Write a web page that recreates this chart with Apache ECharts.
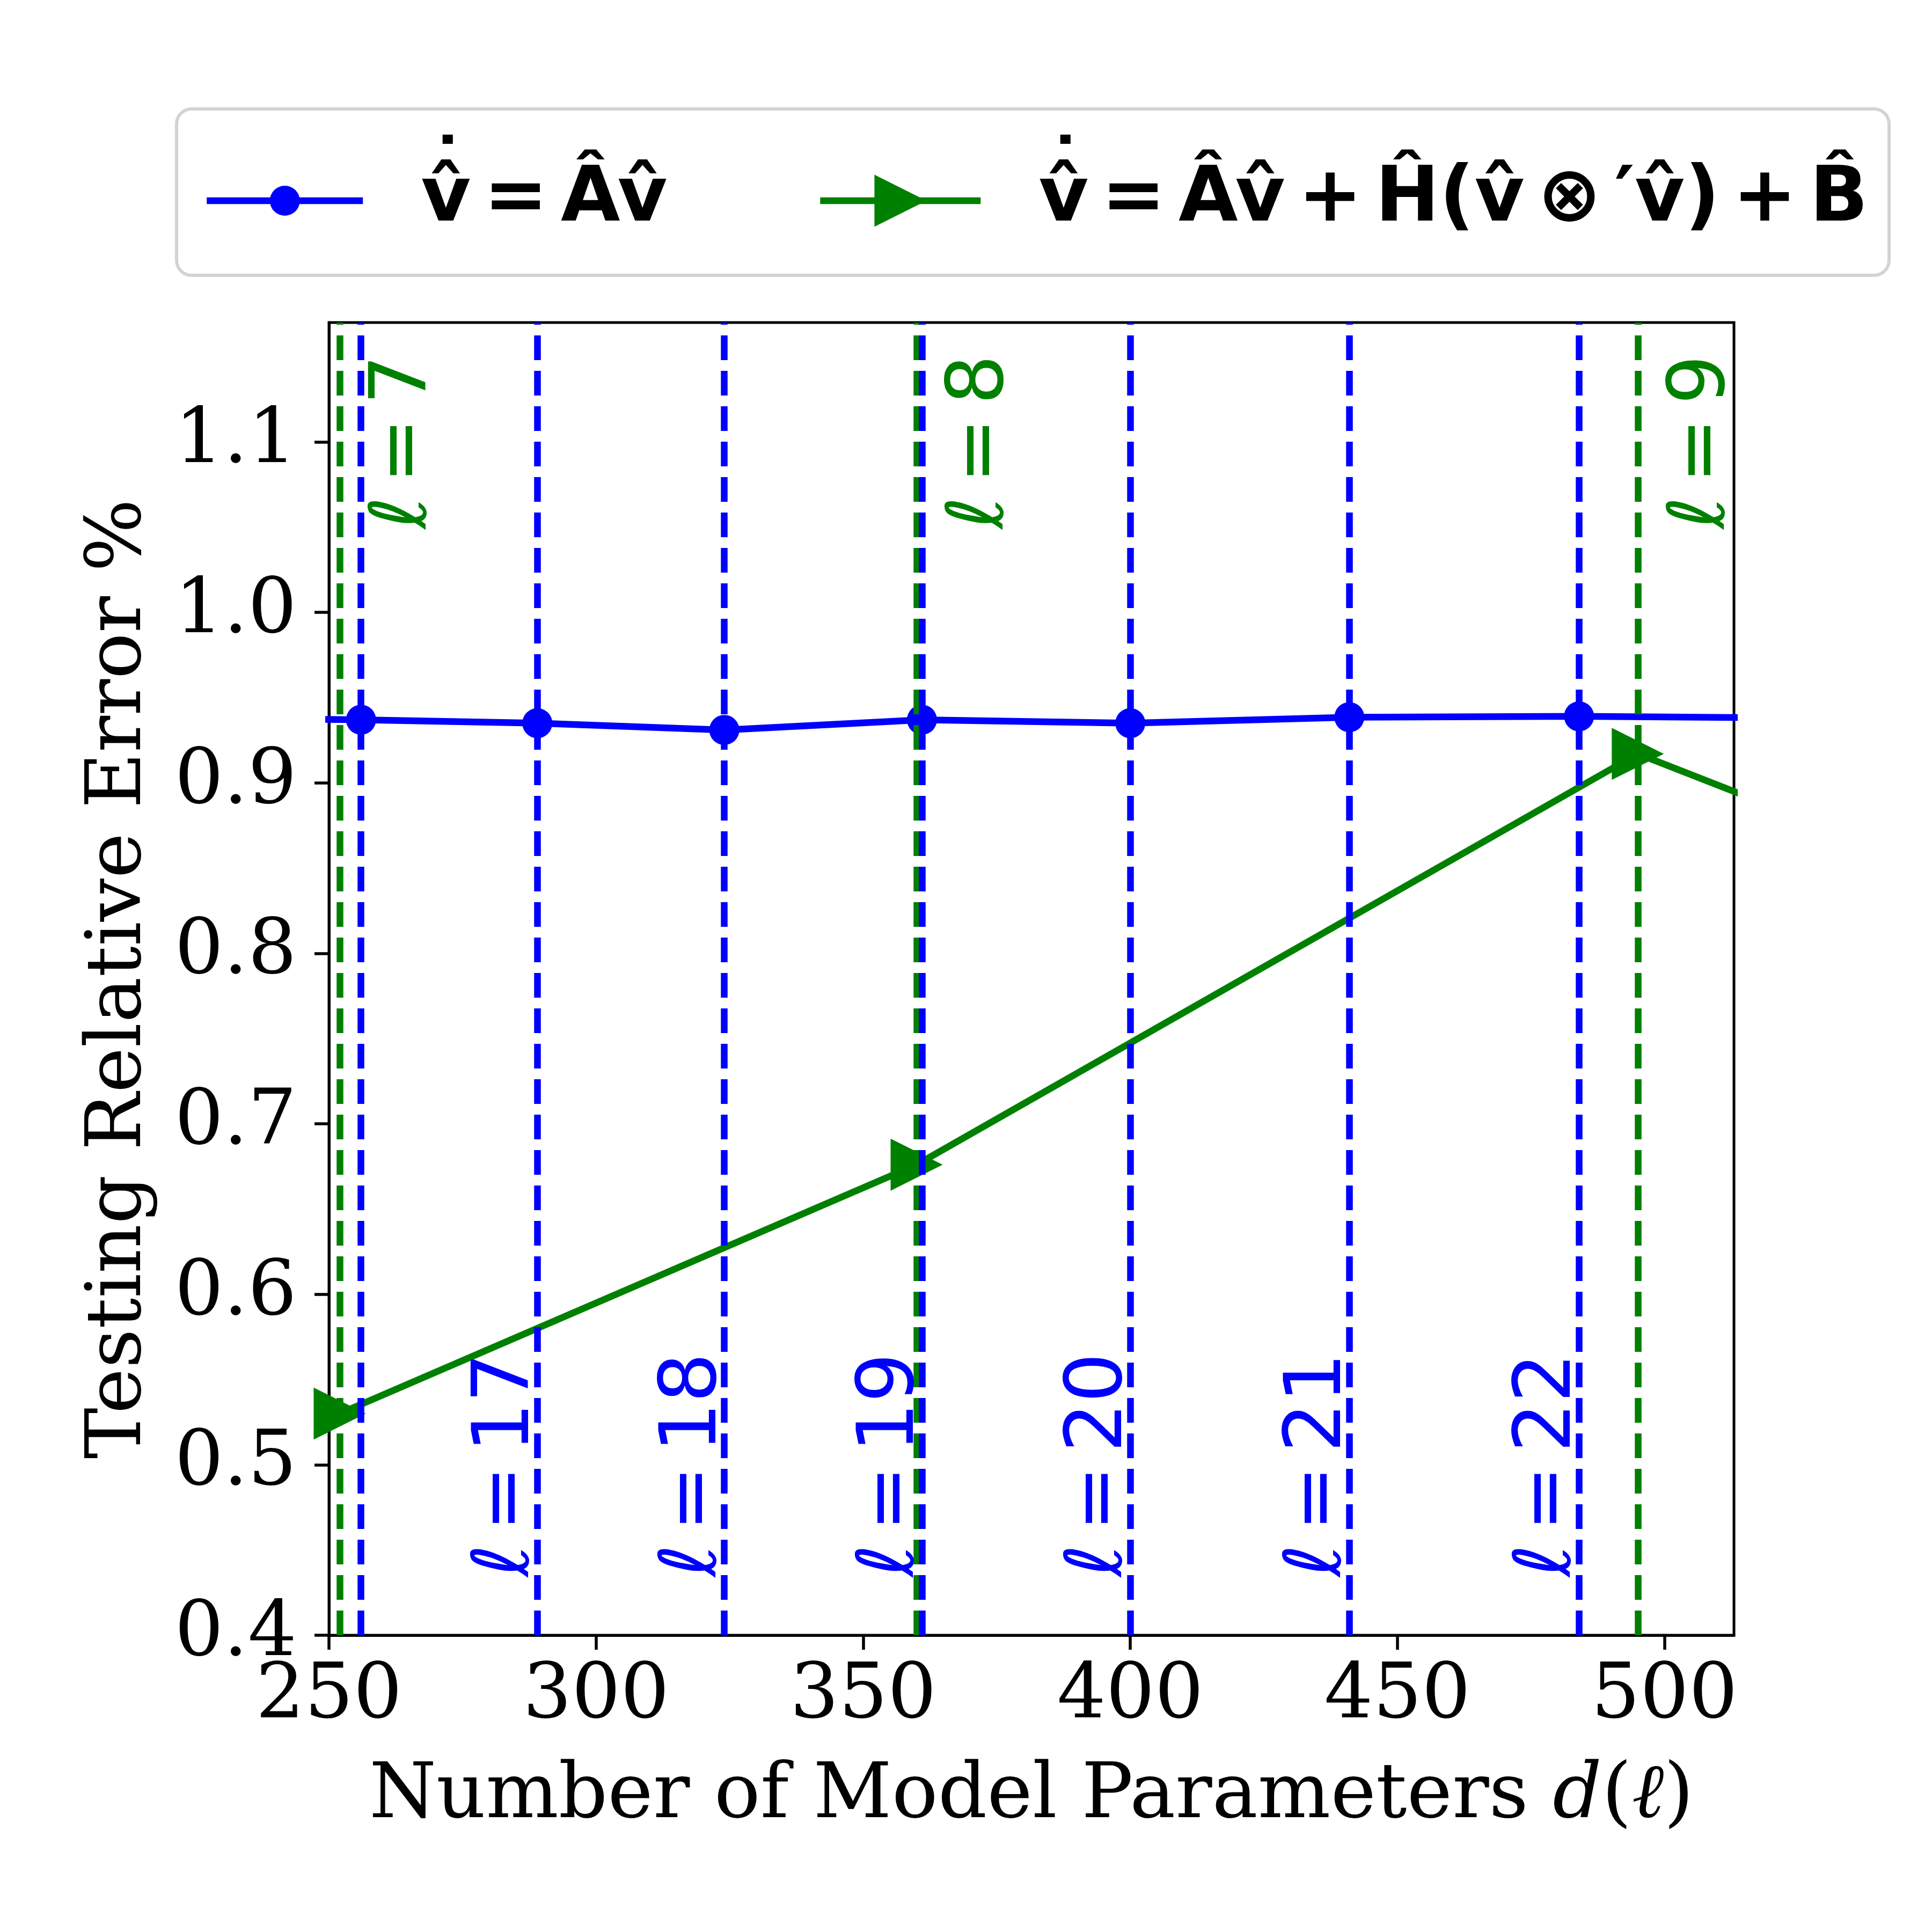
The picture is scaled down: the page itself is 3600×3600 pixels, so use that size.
<!DOCTYPE html>
<html><head><meta charset="utf-8">
<script src="https://cdn.jsdelivr.net/npm/echarts@6/dist/echarts.min.js"></script>
<style>html,body{margin:0;padding:0;background:#fff}#c{width:3600px;height:3600px}</style>
</head><body><div id="c"></div>
<script>
// ---- data ----
const blueD = [225, 256, 289, 324, 361, 400, 441, 484, 529];
const blueErr = [0.938, 0.937, 0.935, 0.931, 0.937, 0.935, 0.9385, 0.939, 0.938];
const greenD = [252, 360, 495, 660];
const greenErr = [0.530, 0.676, 0.917, 0.715];
const blueVLines = [256, 289, 324, 361, 400, 441, 484];
const greenVLines = [252, 360, 495];
const blueLabelD = [289, 324, 361, 400, 441, 484];
const blueLabelL = [17, 18, 19, 20, 21, 22];
const greenLabelD = [252, 360, 495];
const greenLabelL = [7, 8, 9];
const xTicks = [250, 300, 350, 400, 450, 500];
const yTicks = [0.4, 0.5, 0.6, 0.7, 0.8, 0.9, 1.0, 1.1];

const S6 = '\u2006';
const LEG = {
  lin: '{d|\u200A\u02D9}v\u0302' + S6 + '=' + S6 + 'A\u0302v\u0302',
  quad: '{d|\u200A\u02D9}v\u0302' + S6 + '=' + S6 + 'A\u0302v\u0302' + S6 + '+' + S6 + 'H\u0302(v\u0302' + S6 + '\u2297' + S6 + '\u2032v\u0302)' + S6 + '+' + S6 + 'B\u0302'
};

const BLUE = '#0000ff', GREEN = '#008000';
const FS = 143, LFS = 146;
const SERIF = 'DejaVu Serif', SANS = 'DejaVu Sans';

const chart = echarts.init(document.getElementById('c'), null, {renderer: 'canvas'});

function lblFmt(p) { return '{i|\u2113}{n|' + S6 + '=' + S6 + p.value[2] + '}'; }
function lblRich(color) {
  return {
    i: {fontFamily: SANS, fontStyle: 'italic', fontSize: LFS, color: color},
    n: {fontFamily: SANS, fontSize: LFS, color: color}
  };
}
const legRich = {d: {fontFamily: SANS, fontWeight: 'bold', fontSize: FS, color: '#000', lineHeight: 55, verticalAlign: 'top', width: 0}};
function legText(pad) {
  return {fontFamily: SANS, fontWeight: 'bold', fontSize: FS, color: '#000', lineHeight: 244, padding: [0, 0, 0, pad], rich: legRich};
}

const option = {
  animation: false,
  backgroundColor: '#ffffff',
  grid: {left: 613, right: 369, top: 601, bottom: 553, show: true, borderColor: '#000', borderWidth: 5, backgroundColor: 'transparent'},
  graphic: [{
    type: 'rect', left: 326, top: 200, z: 1,
    shape: {width: 3191, height: 310, r: 28},
    style: {fill: 'rgba(255,255,255,0.8)', stroke: '#d3d3d3', lineWidth: 6}
  }],
  legend: [
    {
      data: ['lin'], left: 379, top: 252, padding: 0, selectedMode: false, z: 5,
      itemWidth: 291, itemHeight: 70, lineStyle: {width: 12.5},
      formatter: n => LEG[n], textStyle: legText(103)
    },
    {
      data: ['quad'], left: 1522, top: 252, padding: 0, selectedMode: false, z: 5,
      itemWidth: 299, itemHeight: 121, lineStyle: {width: 12.5},
      formatter: n => LEG[n], textStyle: legText(103)
    }
  ],
  xAxis: {
    type: 'value', min: 250, max: 513, interval: 50,
    axisLine: {show: true, lineStyle: {color: '#000', width: 5}},
    axisTick: {show: true, length: 27, lineStyle: {color: '#000', width: 5.5}, customValues: xTicks},
    axisLabel: {fontFamily: SERIF, fontSize: FS, color: '#000', margin: 44, customValues: xTicks},
    splitLine: {show: false},
    name: 'Number of Model Parameters {i|d}({i|\u2113})',
    nameLocation: 'middle', nameGap: 230,
    nameTextStyle: {fontFamily: SERIF, fontSize: FS, color: '#000',
      rich: {i: {fontFamily: SERIF, fontStyle: 'italic', fontSize: FS, color: '#000'}}}
  },
  yAxis: {
    type: 'value', min: 0.4, max: 1.17, interval: 0.1,
    axisLine: {show: true, lineStyle: {color: '#000', width: 5}},
    axisTick: {show: true, length: 27, lineStyle: {color: '#000', width: 5.5}, customValues: yTicks},
    axisLabel: {fontFamily: SERIF, fontSize: FS, color: '#000', margin: 60, customValues: yTicks,
      formatter: v => Number(v).toFixed(1)},
    splitLine: {show: false},
    name: 'Testing Relative Error %', nameLocation: 'middle', nameRotate: 90, nameGap: 318,
    nameTextStyle: {fontFamily: SERIF, fontSize: FS, color: '#000'}
  },
  series: [
    {
      name: 'lin', type: 'line', z: 3, clip: true,
      data: blueD.map((d, i) => [d, blueErr[i]]),
      symbol: 'circle', symbolSize: 56,
      lineStyle: {color: BLUE, width: 12.5},
      itemStyle: {color: BLUE}
    },
    {
      name: 'quad', type: 'line', z: 3, clip: true,
      data: greenD.map((d, i) => [d, greenErr[i]]),
      symbol: 'triangle', symbolSize: 97, symbolRotate: -90,
      lineStyle: {color: GREEN, width: 12.5},
      itemStyle: {color: GREEN}
    },
    {
      name: 'greenV', type: 'line', data: [], z: 5,
      markLine: {silent: true, symbol: ['none', 'none'], animation: false, label: {show: false},
        lineStyle: {color: GREEN, width: 12.5, type: [46, 20]},
        data: greenVLines.map(v => ({xAxis: v}))}
    },
    {
      name: 'blueV', type: 'line', data: [], z: 6,
      markLine: {silent: true, symbol: ['none', 'none'], animation: false, label: {show: false},
        lineStyle: {color: BLUE, width: 12.5, type: [46, 20]},
        data: blueVLines.map(v => ({xAxis: v}))}
    },
    {
      name: 'greenLbl', type: 'scatter', z: 7, silent: true,
      data: greenLabelD.map((d, i) => [d, 1.1, greenLabelL[i]]),
      symbolSize: 1, itemStyle: {color: 'rgba(0,0,0,0)', opacity: 1},
      label: {show: true, position: 'inside', rotate: 90, offset: [0, 122], formatter: lblFmt, rich: lblRich(GREEN)}
    },
    {
      name: 'blueLbl', type: 'scatter', z: 7, silent: true,
      data: blueLabelD.map((d, i) => [d, 0.5, blueLabelL[i]]),
      symbolSize: 1, itemStyle: {color: 'rgba(0,0,0,0)', opacity: 1},
      label: {show: true, position: 'inside', rotate: 90, offset: [0, -55], formatter: lblFmt, rich: lblRich(BLUE)}
    }
  ]
};
chart.setOption(option);
</script>
</body></html>
